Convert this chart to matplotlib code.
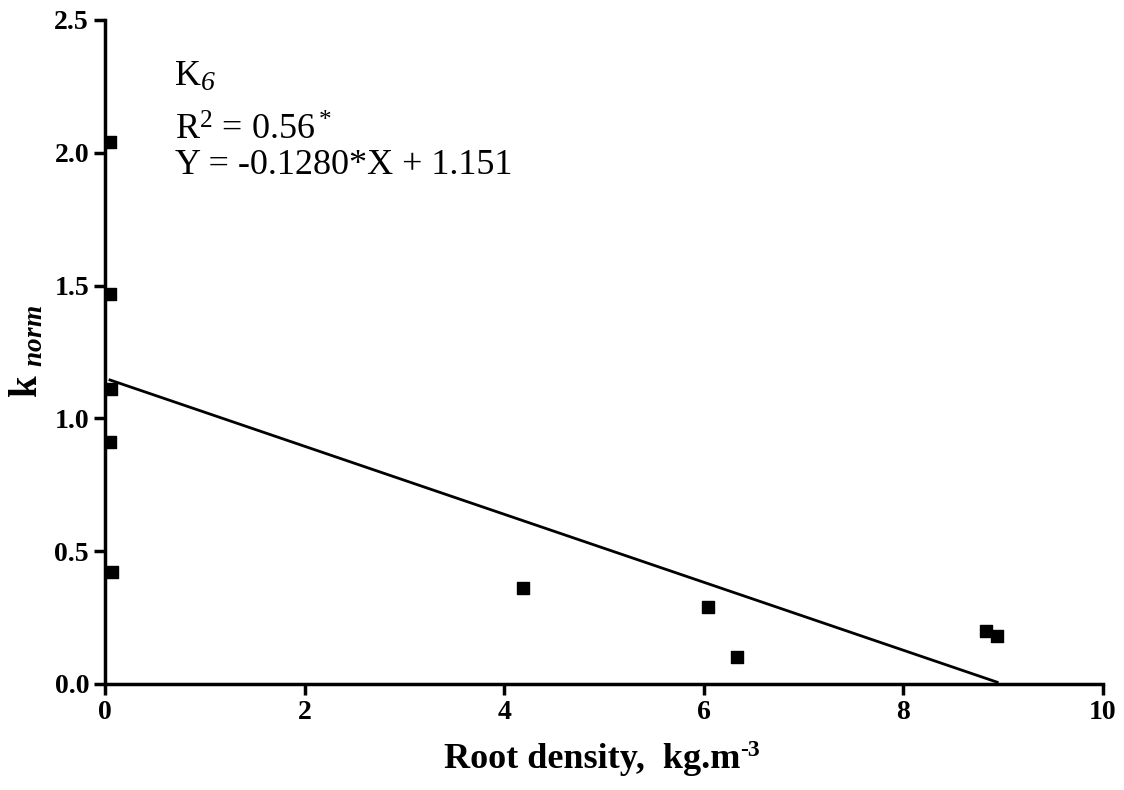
import numpy as np
import matplotlib
matplotlib.use('Agg')
import matplotlib.pyplot as plt

plt.rcParams['font.family'] = ['Liberation Serif', 'DejaVu Serif']
plt.rcParams['mathtext.fontset'] = 'custom'
plt.rcParams['mathtext.rm'] = 'Liberation Serif'
plt.rcParams['mathtext.it'] = 'Liberation Serif:italic'
plt.rcParams['mathtext.bf'] = 'Liberation Serif:bold'
plt.rcParams['mathtext.bfit'] = 'Liberation Serif:bold:italic'

# root density (kg.m-3) vs normalised k
root_density = [0.05, 0.05, 0.06, 0.05, 0.07, 4.19, 6.04, 6.33, 8.83, 8.94]
k_norm = [2.04, 1.47, 1.11, 0.91, 0.42, 0.36, 0.29, 0.10, 0.20, 0.18]

# fitted line Y = slope*X + intercept
slope = -0.1280
intercept = 1.151

fig = plt.figure(figsize=(11.24, 7.90), dpi=100)
ax = fig.add_axes([0.0934, 0.1342, 0.8879, 0.8405])

ax.scatter(root_density, k_norm, marker='s', s=80, color='black', zorder=3)

xfit = np.array([min(root_density), max(root_density)])
ax.plot(xfit, slope * xfit + intercept, color='black', lw=2)

ax.set_xlim(0, 10)
ax.set_ylim(0, 2.5)
ax.set_xticks([0, 2, 4, 6, 8, 10])
ax.set_yticks([0.0, 0.5, 1.0, 1.5, 2.0, 2.5])
ax.set_yticklabels(['0.0', '0.5', '1.0', '1.5', '2.0', '2.5'])

for s in ['top', 'right']:
    ax.spines[s].set_visible(False)
for s in ['left', 'bottom']:
    ax.spines[s].set_linewidth(2.5)
ax.tick_params(width=2.5, length=8, labelsize=20, direction='out')
for lab in ax.get_xticklabels() + ax.get_yticklabels():
    lab.set_fontweight('bold')

# x label with a plain-hyphen superscript
xl = fig.text(444 / 1124, 1 - 768 / 790, 'Root density,  kg.m', fontsize=26,
              fontweight='bold', ha='left', va='baseline')
fig.text(0, 0, '')
ax.annotate('-3', xy=(1, 1), xycoords=xl, xytext=(0, 2), textcoords='offset points',
            fontsize=17, fontweight='bold', ha='left', va='top', annotation_clip=False)
ax.set_ylabel(r'k $_{\mathbfit{norm}}$', fontsize=28, fontweight='bold', labelpad=6)

kt = ax.text(0.07, 0.94, 'K', transform=ax.transAxes, fontsize=26, va='top')
ax.annotate('6', xy=(1, 0), xycoords=kt, xytext=(0, -2), textcoords='offset points',
            fontsize=20, fontstyle='italic', ha='left', va='bottom')
ax.text(0.07, 0.858, r'R$^2$ = 0.56$^*$', transform=ax.transAxes, fontsize=26, va='top')
ax.text(0.07, 0.805, 'Y = -0.1280*X + 1.151', transform=ax.transAxes, fontsize=26, va='top')

fig.savefig('out.png', dpi=100)
